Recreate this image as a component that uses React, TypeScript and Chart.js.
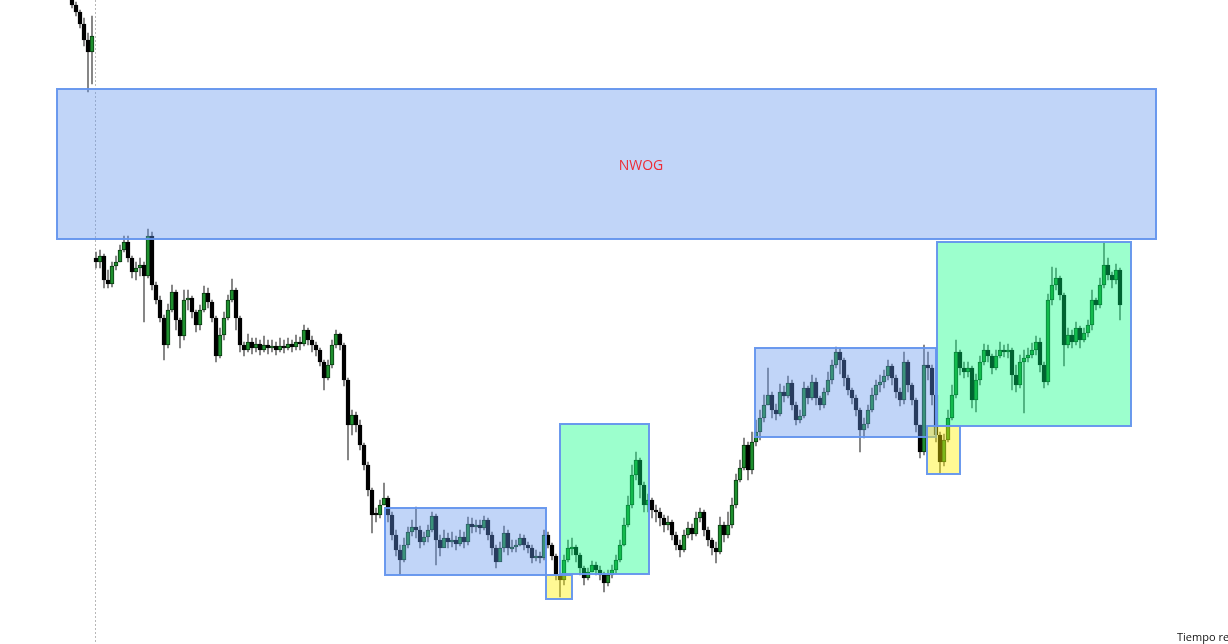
import React, { useEffect, useRef } from "react";
import { Chart, registerables } from "chart.js";

Chart.register(...registerables);

// Price levels are expressed on a reversed vertical scale (larger = lower price).
// Previous week (before the weekend gap)
const prevWeekOpen = -8;
const prevWeekClose = [5, 12, 24, 40, 52, 36];
const prevWeekHigh = [-12, 2, 10, 18, 33, 16];
const prevWeekLow = [8, 16, 28, 46, 92, 84];

// Current week (after the gap), starts at candle index 6
const weekStartIndex = 6;
const weekOpen = 258;
const weekClose = [
  262, 256, 280, 284, 266, 262, 250, 242, 258, 272,
  268, 265, 276, 236, 285, 300, 318, 345, 310, 292,
  320, 336, 300, 298, 312, 325, 310, 293, 302, 318,
  356, 335, 318, 300, 290, 318, 345, 350, 342, 348,
  344, 350, 345, 348, 346, 350, 346, 348, 344, 347,
  342, 344, 330, 340, 345, 350, 362, 378, 365, 345,
  334, 345, 380, 425, 415, 425, 445, 465, 490, 515,
  515, 505, 498, 515, 535, 550, 560, 545, 532, 527,
  530, 542, 537, 530, 516, 540, 548, 538, 542, 540,
  544, 537, 542, 524, 527, 525, 528, 520, 535, 548,
  562, 548, 533, 548, 547, 545, 538, 545, 548, 558,
  556, 558, 535, 545, 556, 575, 580, 560, 548, 547,
  555, 568, 578, 572, 565, 570, 575, 583, 575, 570,
  560, 545, 525, 505, 475, 460, 485, 505, 500, 510,
  512, 518, 525, 522, 535, 545, 550, 535, 528, 534,
  518, 512, 530, 540, 548, 552, 525, 535, 525, 505,
  480, 468, 445, 470, 442, 432, 418, 405, 395, 410,
  414, 392, 396, 383, 405, 420, 416, 388, 398, 382,
  398, 405, 392, 380, 365, 352, 360, 378, 390, 398,
  410, 430, 424, 410, 395, 385, 382, 376, 366, 378,
  392, 400, 362, 385, 400, 425, 452, 365, 368, 395,
  435, 462, 440, 418, 395, 352, 368, 372, 368, 400,
  380, 362, 350, 356, 368, 356, 350, 352, 350, 375,
  385, 362, 358, 355, 350, 342, 365, 382, 300, 285,
  278, 295, 345, 335, 342, 328, 340, 333, 325, 300,
  305, 285, 265, 275, 280, 270, 305,
];
const weekHigh = [
  252, 250, 254, 270, 262, 256, 245, 236, 236, 256,
  262, 258, 262, 229, 232, 282, 296, 315, 304, 285,
  290, 318, 290, 290, 296, 310, 305, 286, 288, 300,
  316, 328, 312, 295, 279, 288, 316, 342, 334, 338,
  338, 340, 336, 340, 340, 342, 338, 340, 338, 340,
  335, 337, 325, 328, 336, 342, 348, 360, 360, 340,
  330, 333, 343, 378, 410, 412, 420, 443, 462, 488,
  508, 500, 483, 496, 512, 530, 545, 538, 527, 520,
  507, 526, 532, 525, 512, 514, 535, 530, 533, 532,
  536, 530, 532, 517, 518, 520, 520, 516, 518, 532,
  545, 542, 526, 530, 540, 540, 534, 535, 542, 545,
  550, 552, 530, 532, 543, 554, 570, 555, 540, 538,
  545, 553, 566, 568, 561, 562, 566, 572, 570, 565,
  555, 540, 518, 496, 465, 452, 458, 482, 494, 498,
  505, 508, 515, 516, 520, 532, 540, 530, 522, 524,
  512, 508, 510, 527, 538, 542, 517, 522, 512, 498,
  474, 460, 438, 442, 432, 420, 410, 395, 368, 392,
  404, 384, 386, 376, 380, 402, 410, 382, 386, 375,
  378, 396, 388, 372, 360, 347, 348, 358, 375, 388,
  395, 408, 418, 405, 388, 380, 375, 370, 360, 364,
  375, 388, 352, 360, 383, 398, 425, 345, 352, 365,
  393, 432, 434, 410, 385, 340, 350, 362, 362, 366,
  374, 356, 344, 345, 354, 350, 342, 345, 344, 348,
  365, 355, 350, 348, 343, 336, 338, 362, 294, 267,
  268, 276, 293, 328, 330, 322, 326, 328, 320, 290,
  298, 278, 243, 258, 272, 264, 268,
];
const weekLow = [
  268, 268, 288, 288, 287, 270, 262, 252, 262, 278,
  280, 276, 322, 278, 290, 304, 322, 360, 348, 312,
  330, 348, 340, 310, 318, 332, 330, 312, 308, 322,
  362, 358, 340, 320, 302, 330, 352, 356, 352, 354,
  352, 355, 352, 354, 352, 355, 352, 353, 350, 352,
  350, 350, 346, 345, 352, 356, 366, 390, 380, 368,
  348, 350, 386, 460, 435, 432, 450, 470, 496, 533,
  522, 518, 505, 522, 540, 556, 575, 562, 548, 536,
  538, 548, 545, 542, 532, 565, 556, 546, 548, 547,
  550, 546, 548, 545, 533, 532, 534, 530, 540, 555,
  568, 560, 552, 555, 552, 552, 546, 550, 553, 563,
  561, 563, 560, 548, 560, 580, 597, 585, 562, 555,
  562, 575, 585, 580, 572, 575, 580, 592, 586, 578,
  574, 562, 546, 527, 508, 480, 498, 512, 512, 518,
  522, 526, 532, 530, 540, 550, 557, 552, 538, 540,
  536, 522, 536, 546, 555, 563, 554, 542, 538, 528,
  508, 482, 470, 480, 474, 446, 440, 422, 405, 418,
  420, 416, 402, 398, 410, 425, 423, 418, 404, 400,
  405, 410, 408, 395, 384, 368, 374, 386, 395, 404,
  416, 452, 438, 428, 412, 400, 392, 388, 380, 385,
  398, 406, 404, 392, 405, 432, 458, 455, 380, 405,
  442, 473, 466, 442, 420, 398, 375, 378, 377, 408,
  412, 385, 365, 362, 374, 370, 358, 357, 358, 390,
  392, 388, 413, 362, 358, 355, 372, 388, 385, 305,
  290, 300, 366, 348, 348, 345, 348, 342, 337, 330,
  310, 308, 288, 280, 288, 284, 320,
];

// Week separator (between candle 5 and 6)
const weekSeparatorIndex = 5.75;

// Zones: [x0, x1] in candle index, [y0, y1] in price level
const zoneNames = ["NWOG", "range1", "green1", "sweep1", "range2", "green2", "sweep2"];
const zoneX0 = [-3.75, 78.25, 122, 118.5, 170.75, 216.25, 213.75];
const zoneX1 = [271, 118.5, 144.25, 125, 216, 264.75, 222];
const zoneY0 = [89, 508, 424, 575, 348, 242, 426];
const zoneY1 = [239, 575, 574, 599, 437, 426, 474];
const zoneKind = ["blue", "blue", "green", "yellow", "blue", "green", "yellow"];

const nwogLabel = { text: "NWOG", x: 142.25, y: 166 };

const ZONE_FILL: Record<string, string> = {
  blue: "rgba(100,149,237,0.40)",
  green: "rgba(0,255,127,0.39)",
  yellow: "rgba(255,240,0,0.42)",
};

export default function App() {
  const canvasRef = useRef<HTMLCanvasElement | null>(null);

  useEffect(() => {
    const canvas = canvasRef.current;
    if (!canvas) return;

    type C = { x: number; o: number; h: number; l: number; c: number };
    const candles: C[] = [];
    let prev = prevWeekOpen;
    prevWeekClose.forEach((c, i) => {
      candles.push({ x: i, o: prev, h: prevWeekHigh[i], l: prevWeekLow[i], c });
      prev = c;
    });
    prev = weekOpen;
    weekClose.forEach((c, i) => {
      candles.push({ x: weekStartIndex + i, o: prev, h: weekHigh[i], l: weekLow[i], c });
      prev = c;
    });

    const isUp = candles.map((k) => k.c < k.o);
    const bodyFill = isUp.map((u) => (u ? "#1e8f2e" : "#000000"));
    const bodyBorder = isUp.map((u) => (u ? "#0b3a12" : "#000000"));

    const overlay = {
      id: "overlay",
      beforeDatasetsDraw(chart: any) {
        const { ctx, scales, chartArea } = chart;
        const px = scales.x.getPixelForValue(weekSeparatorIndex);
        ctx.save();
        ctx.strokeStyle = "#b8b8b8";
        ctx.lineWidth = 1;
        ctx.setLineDash([2, 2]);
        ctx.beginPath();
        ctx.moveTo(Math.round(px) + 0.5, chartArea.top);
        ctx.lineTo(Math.round(px) + 0.5, chartArea.bottom);
        ctx.stroke();
        ctx.restore();
      },
      afterDatasetsDraw(chart: any) {
        const { ctx, scales } = chart;
        ctx.save();
        zoneNames.forEach((_, i) => {
          const x0 = scales.x.getPixelForValue(zoneX0[i]);
          const x1 = scales.x.getPixelForValue(zoneX1[i]);
          const y0 = scales.y.getPixelForValue(zoneY0[i]);
          const y1 = scales.y.getPixelForValue(zoneY1[i]);
          ctx.fillStyle = ZONE_FILL[zoneKind[i]];
          ctx.fillRect(x0, y0, x1 - x0, y1 - y0);
          ctx.strokeStyle = "rgba(100,149,237,0.95)";
          ctx.lineWidth = 2;
          ctx.strokeRect(x0, y0, x1 - x0, y1 - y0);
        });
        ctx.fillStyle = "#ee2b36";
        ctx.font = '14px "Open Sans", "DejaVu Sans", sans-serif';
        ctx.textAlign = "center";
        ctx.textBaseline = "middle";
        ctx.fillText(
          nwogLabel.text,
          scales.x.getPixelForValue(nwogLabel.x),
          scales.y.getPixelForValue(nwogLabel.y)
        );
        ctx.restore();
      },
    };

    const chart = new Chart(canvas, {
      type: "bar",
      data: {
        datasets: [
          {
            label: "wick",
            data: candles.map((k) => ({ x: k.x, y: [k.l, k.h] })) as any,
            backgroundColor: "#6e6e6e",
            barThickness: 1,
            grouped: false,
            order: 2,
          } as any,
          {
            label: "body",
            data: candles.map((k) => ({ x: k.x, y: [k.o, k.c] })) as any,
            backgroundColor: bodyFill,
            borderColor: bodyBorder,
            borderWidth: 1,
            borderSkipped: false,
            barThickness: 4,
            minBarLength: 2,
            grouped: false,
            order: 1,
          } as any,
        ],
      },
      options: {
        responsive: false,
        animation: false,
        layout: { padding: 0 },
        plugins: { legend: { display: false }, tooltip: { enabled: false } },
        scales: {
          x: { type: "linear", min: -18, max: 289, offset: false, display: false },
          y: { type: "linear", min: 0, max: 644, reverse: true, display: false },
        },
      } as any,
      plugins: [overlay],
    });

    return () => chart.destroy();
  }, []);

  return (
    <div
      style={{
        position: "fixed",
        left: 0,
        top: 0,
        width: 1228,
        height: 644,
        overflow: "hidden",
        background: "#ffffff",
      }}
    >
      <canvas ref={canvasRef} width={1228} height={644} style={{ display: "block" }} />
      <div
        style={{
          position: "absolute",
          left: 1177,
          top: 630,
          fontFamily: '"Open Sans", "DejaVu Sans", sans-serif',
          fontSize: 11,
          lineHeight: "14px",
          whiteSpace: "nowrap",
          color: "#111",
        }}
      >
        Tiempo restante
      </div>
    </div>
  );
}
